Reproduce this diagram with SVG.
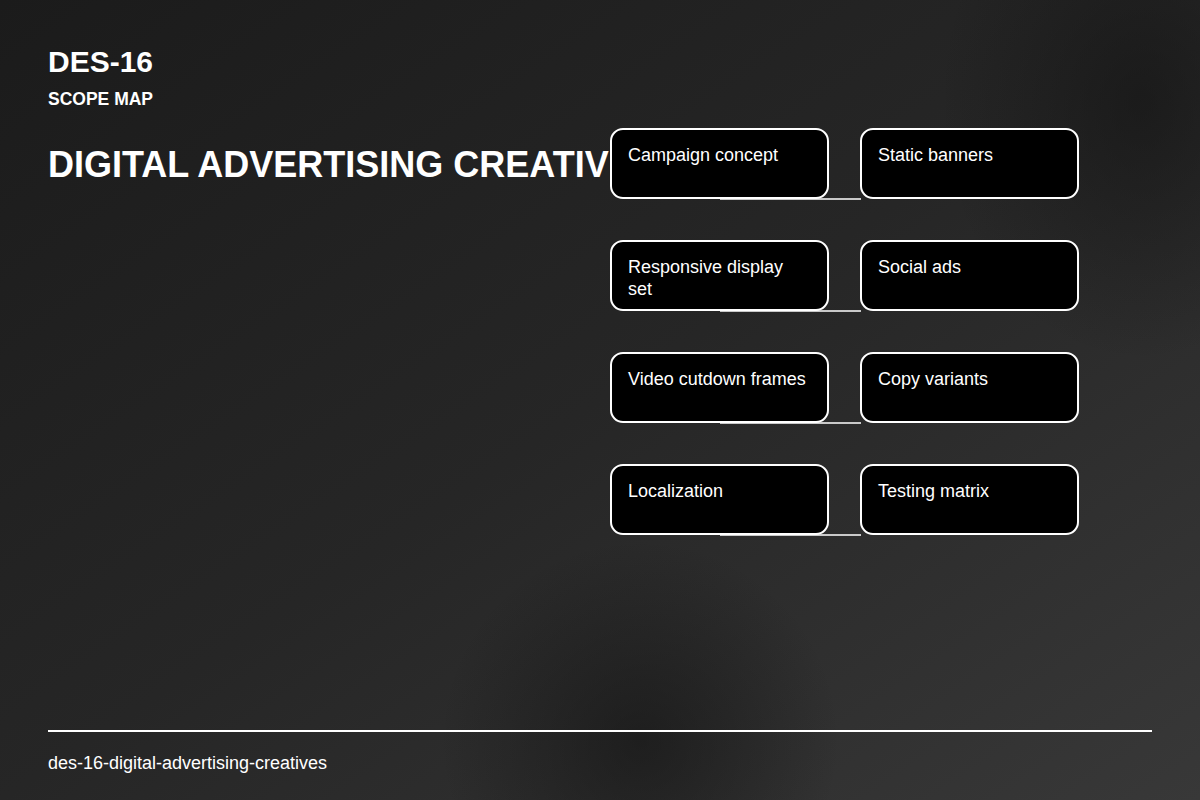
<svg xmlns="http://www.w3.org/2000/svg" width="1200" height="800" viewBox="0 0 1200 800">
<defs>
<linearGradient id="bg" x1="0" y1="0" x2="1" y2="1">
<stop offset="0" stop-color="#1b1b1b"/>
<stop offset="0.5" stop-color="#262626"/>
<stop offset="1" stop-color="#383838"/>
</linearGradient>
<radialGradient id="shade">
<stop offset="0" stop-color="#111" stop-opacity="0.55"/>
<stop offset="1" stop-color="#111" stop-opacity="0"/>
</radialGradient>
<style>
.node rect{fill:#000;stroke:#fff;stroke-width:2}
.node text{fill:#fff;font-family:"Liberation Sans",Arial,sans-serif;font-size:18px}
.hdr{fill:#fff;font-family:"Liberation Sans",Arial,sans-serif;font-weight:bold}
.conn line{stroke:#fff;stroke-width:1.5}
</style>
</defs>
<rect width="1200" height="800" fill="url(#bg)"/>
<ellipse cx="640" cy="740" rx="200" ry="200" fill="url(#shade)"/>
<ellipse cx="1140" cy="100" rx="200" ry="260" fill="url(#shade)"/>
<g id="header">
<text class="hdr" x="48" y="72" font-size="30">DES-16</text>
<text class="hdr" x="48" y="105" font-size="17.5">SCOPE MAP</text>
<text class="hdr" x="48" y="177" font-size="36">DIGITAL ADVERTISING CREATIVES</text>
</g>
<g id="connectors" class="conn">
<line x1="720" y1="199" x2="861" y2="199"/>
<line x1="720" y1="311" x2="861" y2="311"/>
<line x1="720" y1="423" x2="861" y2="423"/>
<line x1="720" y1="535" x2="861" y2="535"/>
</g>
<g id="n1" class="node"><rect x="611" y="129" width="217" height="69" rx="12"/><text x="628" y="161">Campaign concept</text></g>
<g id="n2" class="node"><rect x="861" y="129" width="217" height="69" rx="12"/><text x="878" y="161">Static banners</text></g>
<g id="n3" class="node"><rect x="611" y="241" width="217" height="69" rx="12"/><text x="628" y="273">Responsive display</text><text x="628" y="295">set</text></g>
<g id="n4" class="node"><rect x="861" y="241" width="217" height="69" rx="12"/><text x="878" y="273">Social ads</text></g>
<g id="n5" class="node"><rect x="611" y="353" width="217" height="69" rx="12"/><text x="628" y="385">Video cutdown frames</text></g>
<g id="n6" class="node"><rect x="861" y="353" width="217" height="69" rx="12"/><text x="878" y="385">Copy variants</text></g>
<g id="n7" class="node"><rect x="611" y="465" width="217" height="69" rx="12"/><text x="628" y="497">Localization</text></g>
<g id="n8" class="node"><rect x="861" y="465" width="217" height="69" rx="12"/><text x="878" y="497">Testing matrix</text></g>
<g id="footer">
<line x1="48" y1="731" x2="1152" y2="731" stroke="#fff" stroke-width="2"/>
<text x="48" y="769" fill="#fff" font-family="'Liberation Sans',Arial,sans-serif" font-size="18">des-16-digital-advertising-creatives</text>
</g>
</svg>
